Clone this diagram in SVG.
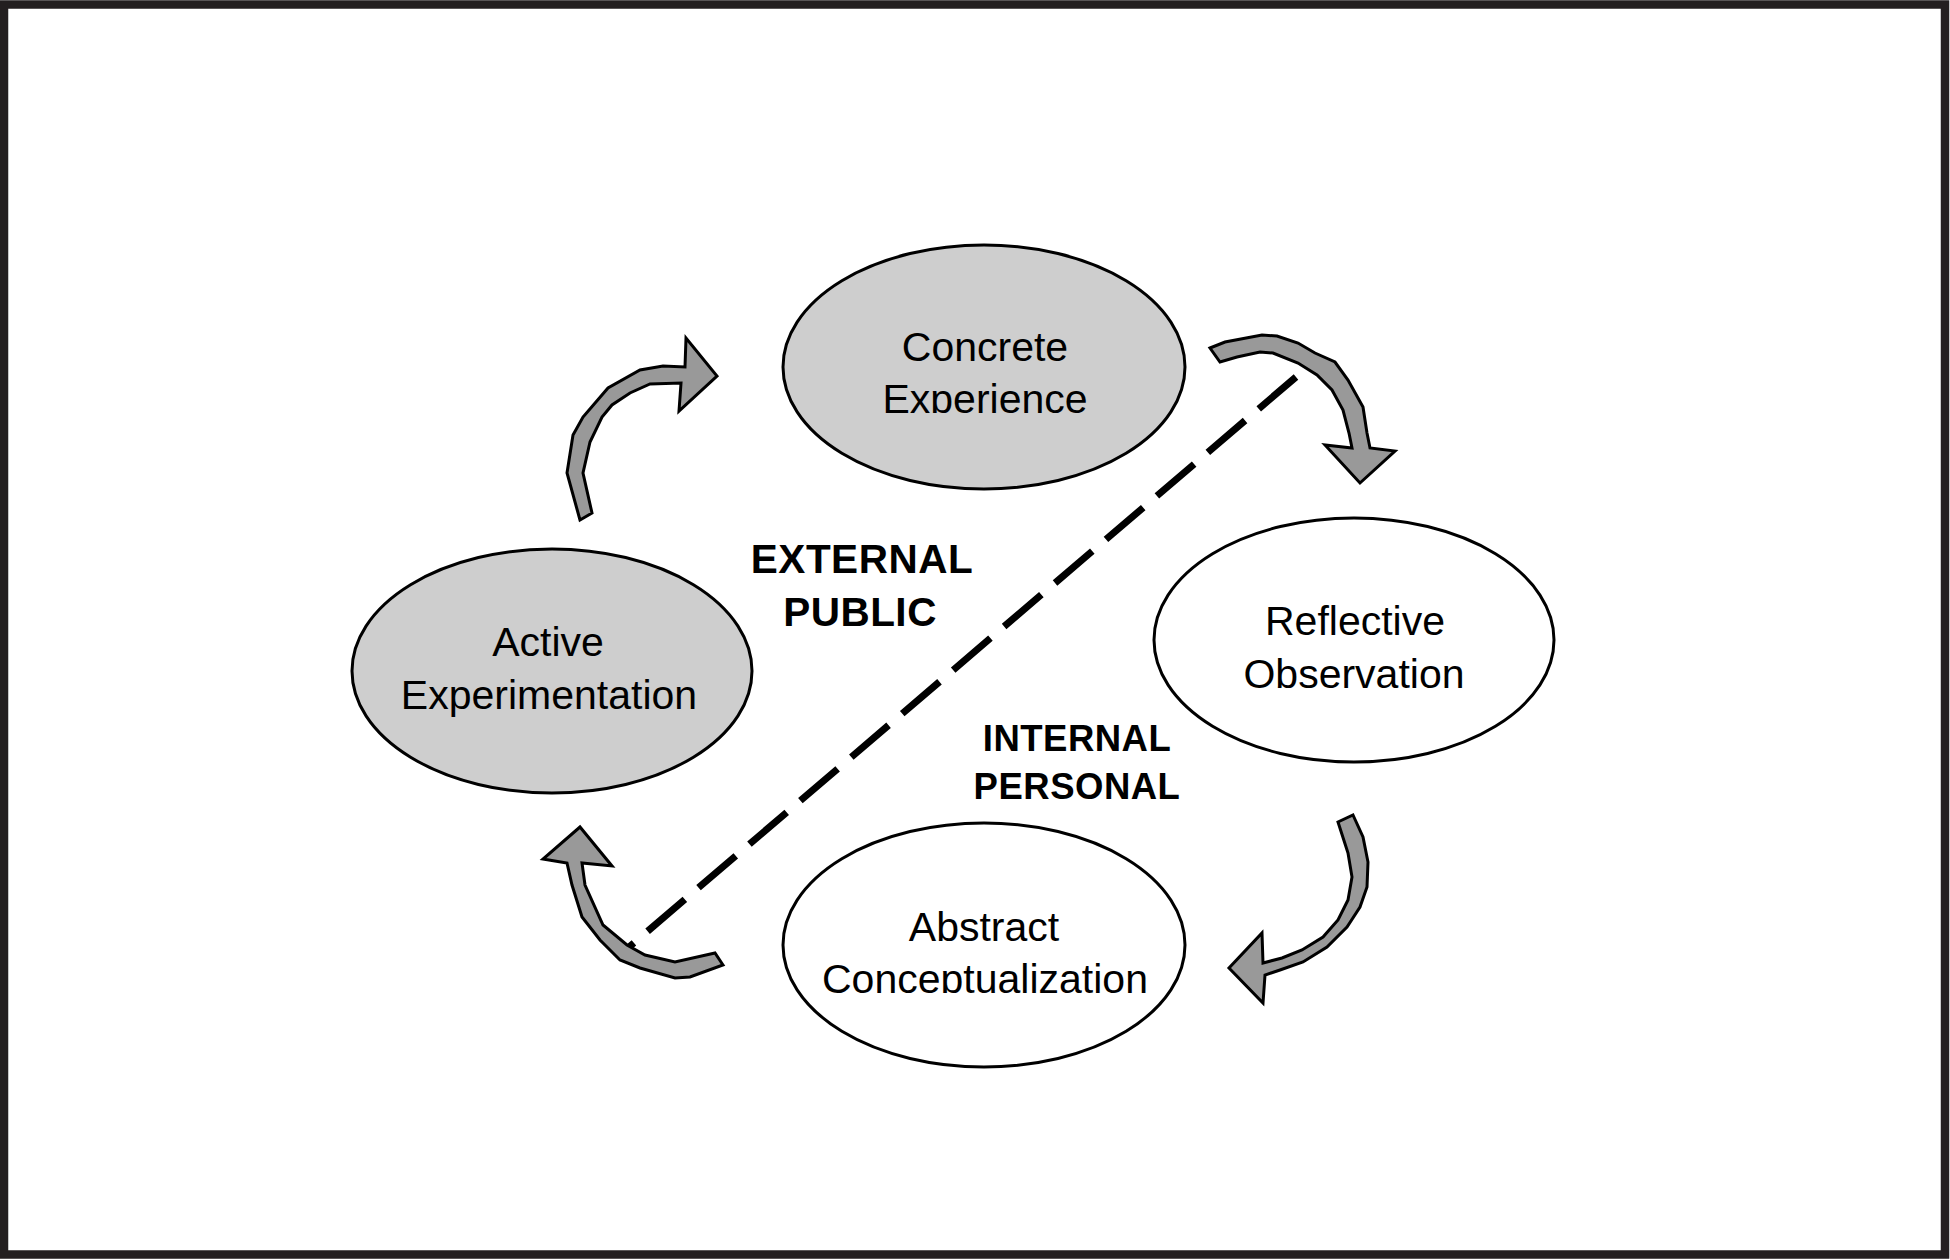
<svg xmlns="http://www.w3.org/2000/svg" width="1950" height="1260" viewBox="0 0 1950 1260">
<style>
.node { stroke:#000; stroke-width:3; }
.gray { fill:#cecece; }
.white { fill:#fff; }
.lbl { font-family:"Liberation Sans", Arial, sans-serif; font-size:41px; fill:#000; text-anchor:middle; }
.bold1 { font-family:"Liberation Sans", Arial, sans-serif; font-size:40.5px; font-weight:bold; fill:#000; text-anchor:middle; letter-spacing:0.5px; }
.bold2 { font-family:"Liberation Sans", Arial, sans-serif; font-size:36.5px; font-weight:bold; fill:#000; text-anchor:middle; letter-spacing:0.5px; }
.arrow { fill:#999; stroke:#000; stroke-width:3; stroke-linejoin:miter; }
.divider { fill:none; stroke:#000; stroke-width:7; stroke-dasharray:49 18; }
</style>
<defs>
<clipPath id="clipCE"><rect x="780" y="240" width="410" height="173"/></clipPath>
<clipPath id="clipAC"><rect x="780" y="820" width="410" height="173"/></clipPath>
</defs>
<rect x="0" y="0" width="1950" height="1260" fill="#fff"/>
<rect id="frame" x="4" y="4.5" width="1941" height="1250" fill="none" stroke="#231f20" stroke-width="8.5"/>

<g id="connectors">
<line id="divider" class="divider" x1="1296" y1="377" x2="628" y2="948"/>
<path id="arrow-ae-ce" class="arrow" d="M580,520 L567,473 L573,435 L583,417 L608,388 L640,370 L663,366 L685,367 L686,338 L717,376 L679,411 L681,383 L650,384 L630,393 L612,405 L602,417 L590,442 L583,473 L592,513 Z"/>
<path id="arrow-ce-ro" class="arrow" d="M1210,348 L1225,342 L1262,335 L1277,336 L1298,343 L1315,353 L1335,362 L1348,380 L1363,407 L1367,433 L1370,448 L1395,451 L1360,483 L1325,445 L1352,448 L1349,433 L1343,410 L1332,390 L1317,375 L1298,363 L1273,353 L1260,352 L1237,357 L1220,362 Z"/>
<path id="arrow-ro-ac" class="arrow" d="M1353,815 L1363,837 L1368,862 L1367,887 L1360,907 L1347,927 L1327,947 L1303,962 L1280,970 L1265,975 L1263,1003 L1229,968 L1262,933 L1263,963 L1282,958 L1302,950 L1323,937 L1338,920 L1348,900 L1352,877 L1348,853 L1338,822 Z"/>
<path id="arrow-ac-ae" class="arrow" d="M723,965 L715,953 L675,962 L645,955 L627,945 L603,925 L585,885 L582,863 L612,866 L580,827 L543,859 L567,863 L572,885 L582,917 L600,940 L620,960 L640,968 L675,978 L690,977 Z"/>
</g>

<g id="node-concrete-experience">
<ellipse class="node gray" cx="984" cy="367" rx="201" ry="122"/>
<text class="lbl" x="985" y="361">Concrete</text>
<text class="lbl" x="985" y="413" clip-path="url(#clipCE)">Experience</text>
</g>

<g id="node-reflective-observation">
<ellipse class="node white" cx="1354" cy="640" rx="200" ry="122"/>
<text class="lbl" x="1355" y="635">Reflective</text>
<text class="lbl" x="1354" y="688">Observation</text>
</g>

<g id="node-abstract-conceptualization">
<ellipse class="node white" cx="984" cy="945" rx="201" ry="122"/>
<text class="lbl" x="984" y="941">Abstract</text>
<text class="lbl" x="985" y="993" clip-path="url(#clipAC)">Conceptualization</text>
</g>

<g id="node-active-experimentation">
<ellipse class="node gray" cx="552" cy="671" rx="200" ry="122"/>
<text class="lbl" x="548" y="656">Active</text>
<text class="lbl" x="549" y="709">Experimentation</text>
</g>

<g id="label-external">
<text class="bold1" x="862" y="573">EXTERNAL</text>
<text class="bold1" x="860" y="626">PUBLIC</text>
</g>
<g id="label-internal">
<text class="bold2" x="1077" y="751">INTERNAL</text>
<text class="bold2" x="1077" y="799">PERSONAL</text>
</g>
</svg>
